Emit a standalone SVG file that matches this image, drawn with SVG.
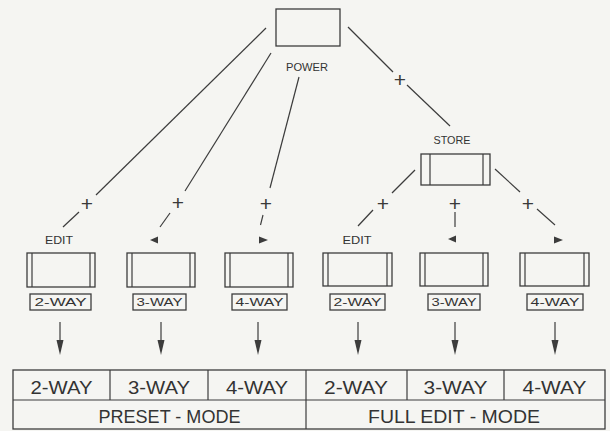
<svg xmlns="http://www.w3.org/2000/svg" width="610" height="431" viewBox="0 0 610 431">
<style>
.ln{stroke:#3c3c3c;stroke-width:1.2;fill:none}
.bx{stroke:#3c3c3c;stroke-width:1.3;fill:none}
.t{font-family:"Liberation Sans",Arial,sans-serif;fill:#333;text-anchor:middle}
.s{font-size:10.5px}
.k{font-size:11px}
.big{font-size:18px}
.p{font-size:21px;fill:#3a3a3a}
.hd{fill:#3c3c3c}
</style>
<rect width="610" height="431" fill="#f5f5f2"/>

<g id="power">
<rect class="bx" x="276" y="9" width="64" height="37"/>
<text class="t s" x="307" y="71" textLength="42" lengthAdjust="spacingAndGlyphs">POWER</text>
</g>

<g id="store">
<text class="t s" x="452" y="144" textLength="37" lengthAdjust="spacingAndGlyphs">STORE</text>
<rect class="bx" x="421" y="154" width="69" height="31"/>
<line class="ln" x1="430" y1="154" x2="430" y2="185"/>
<line class="ln" x1="483" y1="154" x2="483" y2="185"/>
</g>

<g id="edit-preset">
<text class="t s" x="59" y="244" textLength="28" lengthAdjust="spacingAndGlyphs">EDIT</text>
<rect class="bx" x="27" y="253" width="68" height="34"/>
<line class="ln" x1="32" y1="253" x2="32" y2="287"/>
<line class="ln" x1="90" y1="253" x2="90" y2="287"/>
<rect class="bx" x="30" y="294" width="61" height="16"/>
<text class="t k" x="60.5" y="306" textLength="52" lengthAdjust="spacingAndGlyphs">2-WAY</text>
</g>

<g id="left-preset">
<polygon class="hd" points="150,240 158,236.5 158,243.5"/>
<rect class="bx" x="127" y="253" width="68" height="34"/>
<line class="ln" x1="132" y1="253" x2="132" y2="287"/>
<line class="ln" x1="190" y1="253" x2="190" y2="287"/>
<rect class="bx" x="133" y="294" width="53" height="16"/>
<text class="t k" x="159.5" y="306" textLength="46" lengthAdjust="spacingAndGlyphs">3-WAY</text>
</g>

<g id="right-preset">
<polygon class="hd" points="268,240 259,236.5 259,243.5"/>
<rect class="bx" x="225" y="253" width="68" height="34"/>
<line class="ln" x1="230" y1="253" x2="230" y2="287"/>
<line class="ln" x1="288" y1="253" x2="288" y2="287"/>
<rect class="bx" x="232" y="294" width="55" height="16"/>
<text class="t k" x="259.5" y="306" textLength="48" lengthAdjust="spacingAndGlyphs">4-WAY</text>
</g>

<g id="edit-full">
<text class="t s" x="357" y="244" textLength="29" lengthAdjust="spacingAndGlyphs">EDIT</text>
<rect class="bx" x="323" y="253" width="69" height="33"/>
<line class="ln" x1="328" y1="253" x2="328" y2="286"/>
<line class="ln" x1="387" y1="253" x2="387" y2="286"/>
<rect class="bx" x="330" y="294" width="55" height="16"/>
<text class="t k" x="357.5" y="306" textLength="48" lengthAdjust="spacingAndGlyphs">2-WAY</text>
</g>

<g id="left-full">
<polygon class="hd" points="448,239 456,235.5 456,242.5"/>
<rect class="bx" x="420" y="253" width="68" height="33"/>
<line class="ln" x1="425" y1="253" x2="425" y2="286"/>
<line class="ln" x1="483" y1="253" x2="483" y2="286"/>
<rect class="bx" x="428" y="294" width="52" height="16"/>
<text class="t k" x="454" y="306" textLength="45" lengthAdjust="spacingAndGlyphs">3-WAY</text>
</g>

<g id="right-full">
<polygon class="hd" points="563,240 554,236.5 554,243.5"/>
<rect class="bx" x="520" y="253" width="69" height="33"/>
<line class="ln" x1="525" y1="253" x2="525" y2="286"/>
<line class="ln" x1="584" y1="253" x2="584" y2="286"/>
<rect class="bx" x="527" y="294" width="56" height="16"/>
<text class="t k" x="555" y="306" textLength="49" lengthAdjust="spacingAndGlyphs">4-WAY</text>
</g>

<g id="mode-table">
<rect class="bx" x="13" y="370" width="592" height="59" stroke-width="1.5"/>
<line class="ln" x1="13" y1="400" x2="605" y2="400" stroke-width="1.4"/>
<line class="ln" x1="110" y1="370" x2="110" y2="400"/>
<line class="ln" x1="208" y1="370" x2="208" y2="400"/>
<line class="ln" x1="306" y1="370" x2="306" y2="429"/>
<line class="ln" x1="407" y1="370" x2="407" y2="400"/>
<line class="ln" x1="504" y1="370" x2="504" y2="400"/>
<text class="t big" x="61.5" y="394" textLength="62" lengthAdjust="spacingAndGlyphs">2-WAY</text>
<text class="t big" x="159" y="394" textLength="62" lengthAdjust="spacingAndGlyphs">3-WAY</text>
<text class="t big" x="257" y="394" textLength="62" lengthAdjust="spacingAndGlyphs">4-WAY</text>
<text class="t big" x="356" y="394" textLength="64" lengthAdjust="spacingAndGlyphs">2-WAY</text>
<text class="t big" x="455.5" y="394" textLength="64" lengthAdjust="spacingAndGlyphs">3-WAY</text>
<text class="t big" x="554.5" y="394" textLength="64" lengthAdjust="spacingAndGlyphs">4-WAY</text>
<text class="t big" x="169.5" y="423" textLength="142" lengthAdjust="spacingAndGlyphs">PRESET - MODE</text>
<text class="t big" x="454" y="423" textLength="172" lengthAdjust="spacingAndGlyphs">FULL EDIT - MODE</text>
</g>

<g id="connectors">
<line class="ln" x1="266" y1="28" x2="96" y2="195"/>
<line class="ln" x1="79" y1="212" x2="63" y2="227"/>
<line class="ln" x1="271" y1="53" x2="185" y2="191"/>
<line class="ln" x1="170" y1="213" x2="160" y2="227"/>
<line class="ln" x1="299" y1="77" x2="270" y2="188"/>
<line class="ln" x1="263" y1="215" x2="260.5" y2="225"/>
<line class="ln" x1="348" y1="27" x2="393" y2="72"/>
<line class="ln" x1="407" y1="85" x2="450" y2="126"/>
<line class="ln" x1="415" y1="170" x2="392" y2="193"/>
<line class="ln" x1="373" y1="210" x2="358" y2="226"/>
<line class="ln" x1="455" y1="212" x2="455" y2="227"/>
<line class="ln" x1="495" y1="169" x2="520" y2="192"/>
<line class="ln" x1="537" y1="209" x2="555" y2="225"/>
<g id="plus-labels">
<text class="t p" x="87" y="210.5">+</text>
<text class="t p" x="178" y="209.5">+</text>
<text class="t p" x="266" y="210.5">+</text>
<text class="t p" x="400" y="86.5">+</text>
<text class="t p" x="383" y="210.5">+</text>
<text class="t p" x="455" y="210.5">+</text>
<text class="t p" x="528" y="210.5">+</text>
</g>
<g id="down-arrows">
<line class="ln" x1="60" y1="322" x2="60" y2="342"/>
<polygon class="hd" points="56.5,340 63.5,340 60,355"/>
<line class="ln" x1="161" y1="322" x2="161" y2="342"/>
<polygon class="hd" points="157.5,340 164.5,340 161,355"/>
<line class="ln" x1="258" y1="322" x2="258" y2="342"/>
<polygon class="hd" points="254.5,340 261.5,340 258,355"/>
<line class="ln" x1="358" y1="322" x2="358" y2="342"/>
<polygon class="hd" points="354.5,340 361.5,340 358,355"/>
<line class="ln" x1="455" y1="322" x2="455" y2="342"/>
<polygon class="hd" points="451.5,340 458.5,340 455,355"/>
<line class="ln" x1="555" y1="322" x2="555" y2="342"/>
<polygon class="hd" points="551.5,340 558.5,340 555,355"/>
</g>
</g>
</svg>
